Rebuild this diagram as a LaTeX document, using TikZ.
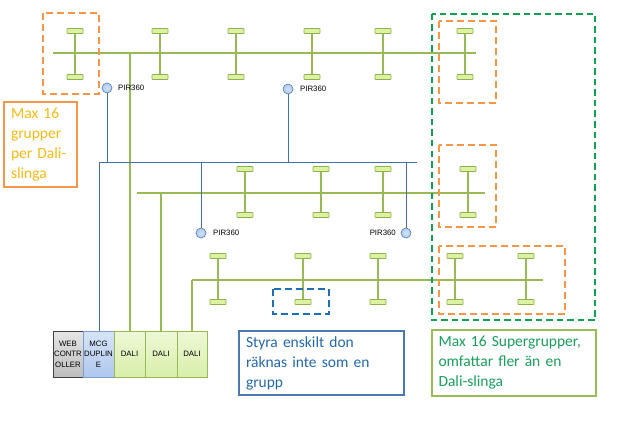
\documentclass[tikz,border=0pt]{standalone}
\usepackage{fontspec}
\setmainfont{Carlito}
\newfontfamily\smallfont{Liberation Sans}
\usetikzlibrary{shadows}
\definecolor{lampgreen}{HTML}{8FB24E}
\definecolor{lampfill}{HTML}{DCF2A2}
\definecolor{busgreen}{HTML}{98B956}
\definecolor{wireblue}{HTML}{4470A6}
\definecolor{pirfill}{HTML}{B4CBEC}
\definecolor{pirdraw}{HTML}{5A86C0}
\definecolor{dashorange}{HTML}{F79646}
\definecolor{dashgreen}{HTML}{12A152}
\definecolor{dashblue}{HTML}{1F6FB8}
\definecolor{boxorange}{HTML}{F79646}
\definecolor{textorange}{HTML}{F8BA12}
\definecolor{boxblue}{HTML}{4A78B0}
\definecolor{textblue}{HTML}{2469AC}
\definecolor{boxgreen}{HTML}{9BBB59}
\definecolor{textgreen}{HTML}{1A9E5C}
\definecolor{unittop}{HTML}{EEF8D6}
\definecolor{unitbot}{HTML}{D8EFAA}
\definecolor{mcgtop}{HTML}{D6E4F8}
\definecolor{mcgbot}{HTML}{AFC8EE}
\newcommand\fixture[4]{%
  \node[lamp] (#1t) at (#2,#3) {};
  \node[lamp] (#1b) at (#2,#4) {};
  \draw[gline] (#1t) -- (#1b);}
\begin{document}
\begin{tikzpicture}[x=1pt,y=-1pt,
  gline/.style={draw=busgreen,line width=1.1pt},
  bline/.style={draw=wireblue,line width=0.9pt},
  lamp/.style={rectangle,draw=lampgreen,fill=lampfill,line width=0.7pt,minimum width=16pt,minimum height=5pt,inner sep=0pt,rounded corners=0.6pt},
  pir/.style={circle,draw=pirdraw,inner color=white!40!pirfill,outer color=pirfill,line width=0.7pt,minimum size=10pt,inner sep=0pt},
  pirlabel/.style={font=\smallfont\fontsize{7.8}{9}\selectfont,inner sep=0pt},
  odash/.style={draw=dashorange,line width=2.4pt,dash pattern=on 7pt off 4pt},
  gdash/.style={draw=dashgreen,line width=2.4pt,dash pattern=on 6.5pt off 4pt},
  bdash/.style={draw=dashblue,line width=2.4pt,dash pattern=on 7pt off 4pt},
  unit/.style={rectangle,minimum height=46pt,inner sep=0pt,align=center,
    font=\smallfont\fontsize{7.8}{10.5}\selectfont,line width=0.7pt,
    drop shadow={shadow xshift=1.2pt,shadow yshift=-1.2pt,opacity=0.25}},
  daliunit/.style={unit,draw=busgreen,top color=unittop,bottom color=unitbot},
  note/.style={rectangle,line width=2pt,anchor=north west,align=left,inner xsep=7pt,
    font=\fontsize{15.5}{20}\selectfont}
]
\useasboundingbox[fill=white] (0,0) rectangle (617,422);

% --- bus lines
\coordinate (b1w) at (53,53);  \coordinate (b1e) at (476,53);
\coordinate (b2w) at (137,193); \coordinate (b2e) at (485,193);
\coordinate (b3w) at (192,280); \coordinate (b3e) at (543,280);
\draw[gline] (b1w) -- (b1e);
\draw[gline] (b2w) -- (b2e);
\draw[gline] (b3e) -- (b3w);

% --- units
\node[unit,draw=black!75,top color=black!10,bottom color=black!26,minimum width=30pt] (web) at (68,354) {WEB\\CONTR\\OLLER};
\node[unit,draw=pirdraw!80,top color=mcgtop,bottom color=mcgbot,minimum width=31pt] (mcg) at (98.5,354) {MCG\\DUPLIN\\E};
\node[daliunit,minimum width=31pt] (dali1) at (129.5,354) {DALI};
\node[daliunit,minimum width=32pt] (dali2) at (161,354) {DALI};
\node[daliunit,minimum width=30pt] (dali3) at (192,354) {DALI};

% --- green feeders
\coordinate (f1) at (130,53);
\coordinate (f2) at (161,193);
\draw[gline] (f1) -- (f1 |- dali1.north);
\draw[gline] (f2) -- (dali2.north);
\draw[gline] (b3w) -- (dali3.north);

% --- blue sensor wiring
\coordinate (bbw) at (99,162); \coordinate (bbe) at (417,162);
\draw[bline] (bbw) -- (bbe);
\draw[bline] (bbw) -- (bbw |- mcg.north);
\node[pir] (p1) at (107,88) {};
\node[pir] (p2) at (288,89) {};
\node[pir] (p3) at (201,233) {};
\node[pir] (p4) at (406,233) {};
\draw[bline] (p1) -- (p1 |- bbw);
\draw[bline] (p2) -- (p2 |- bbw);
\draw[bline] (p3) -- (p3 |- bbw);
\draw[bline] (p4) -- (p4 |- bbw);
\node[pirlabel,anchor=west] (l1) at (118,88) {PIR360};
\node[pirlabel,anchor=west] (l2) at (300,89) {PIR360};
\node[pirlabel,anchor=west] (l3) at (213,233) {PIR360};
\node[pirlabel,anchor=east] (l4) at (396,233) {PIR360};

% --- fixtures
\fixture{a1}{75}{31}{77}
\fixture{a2}{160}{31}{77}
\fixture{a3}{236}{31}{77}
\fixture{a4}{312}{31}{77}
\fixture{a5}{383}{31}{77}
\fixture{a6}{465}{31}{77}
\fixture{c1}{245}{169}{215}
\fixture{c2}{321}{169}{215}
\fixture{c3}{383}{169}{215}
\fixture{c4}{468}{169}{215}
\fixture{e1}{218}{256}{302}
\fixture{e2}{303}{256}{302}
\fixture{e3}{378}{256}{302}
\fixture{e4}{455}{256}{302}
\fixture{e5}{526}{256}{302}

% --- dashed groupings
\draw[odash] (43,13) rectangle (99,94);
\draw[gdash] (432,14) rectangle (595,320);
\draw[odash] (439,21) rectangle (496,103);
\draw[odash] (439,145) rectangle (496,227);
\draw[odash] (439,246) rectangle (565,314);
\draw[bdash] (273,289) rectangle (329,314);

% --- notes
\node[note,draw=boxorange,text=textorange,text width=59pt,minimum width=73pt,minimum height=85pt] (n1) at (3,101) {Max 16\\grupper\\per Dali-\\slinga};
\node[note,draw=boxblue,text=textblue,text width=151pt,minimum width=165pt,minimum height=64pt] (n2) at (238,330) {Styra enskilt don\\räknas inte som en\\grupp};
\node[note,draw=boxgreen,text=textgreen,text width=151pt,inner xsep=6pt,minimum width=164pt,minimum height=66pt] (n3) at (431,329) {Max 16 Supergrupper,\\omfattar fler än en\\Dali-slinga};
\end{tikzpicture}
\end{document}
